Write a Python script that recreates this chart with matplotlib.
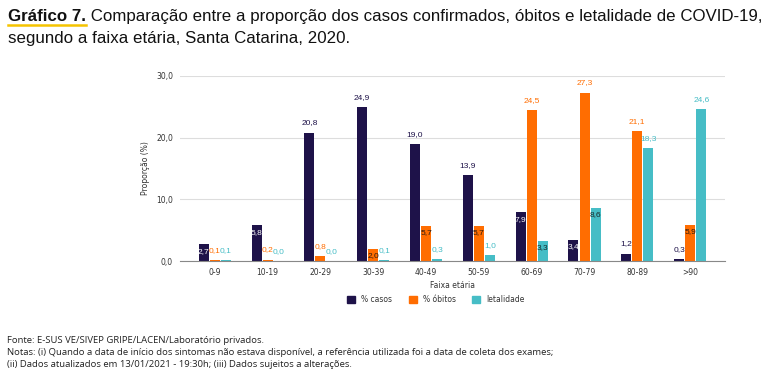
import matplotlib
matplotlib.use("Agg")
import matplotlib.pyplot as plt
from matplotlib import font_manager
import numpy as np

categories = ["0-9", "10-19", "20-29", "30-39", "40-49", "50-59", "60-69", "70-79", "80-89", ">90"]
casos = [2.7, 5.8, 20.8, 24.9, 19.0, 13.9, 7.9, 3.4, 1.2, 0.3]
obitos = [0.1, 0.2, 0.8, 2.0, 5.7, 5.7, 24.5, 27.3, 21.1, 5.9]
letalidade = [0.1, 0.0, 0.0, 0.1, 0.3, 1.0, 3.3, 8.6, 18.3, 24.6]
series_names = ["% casos", "% óbitos", "letalidade"]
yticks = [0, 10, 20, 30]

colors = ["#1e1249", "#ff6d01", "#46bdc6"]
inside_colors = ["#ffffff", "#2a1a10", "#1a2a2a"]

installed = {f.name for f in font_manager.fontManager.ttflist}
narrow = "Liberation Sans Narrow" if "Liberation Sans Narrow" in installed else "Liberation Sans"

W, H = 768, 375
fig = plt.figure(figsize=(W / 100, H / 100), dpi=100)
fig.patch.set_facecolor("white")

ax = fig.add_axes([180 / W, 1 - 261 / H, (725 - 180) / W, (261 - 76) / H])
x = np.arange(len(categories))
bw = 0.19
offs = [-0.21, 0.0, 0.21]
for vals, off, col, icol in zip([casos, obitos, letalidade], offs, colors, inside_colors):
    ax.bar(x + off, vals, width=bw, color=col, zorder=3)
    for xi, v in zip(x, vals):
        lab = f"{v:.1f}".replace(".", ",")
        if 2 <= v < 10:
            ax.annotate(lab, (xi + off, v), xytext=(0, -2.5), textcoords="offset points",
                        ha="center", va="top", fontsize=6, color=icol, zorder=4, family=narrow)
        else:
            ax.annotate(lab, (xi + off, v), xytext=(0, 4.5), textcoords="offset points",
                        ha="center", va="bottom", fontsize=6, color=col, zorder=4, family=narrow)

ax.set_xlim(-0.66, 9.66)
ax.set_ylim(0, 30)
ax.set_yticks(yticks)
ax.set_yticklabels([f"{t:.1f}".replace(".", ",") for t in yticks])
ax.set_xticks(x)
ax.set_xticklabels(categories)
ax.tick_params(axis="both", length=0, labelsize=5.5, labelcolor="#333333", pad=5)
ax.grid(axis="y", color="#dddddd", linewidth=0.8, zorder=0)
for s in ["top", "right", "left"]:
    ax.spines[s].set_visible(False)
ax.spines["bottom"].set_color("#888888")
ax.spines["bottom"].set_linewidth(0.8)
ax.spines["bottom"].set_zorder(5)
ax.set_ylabel("Proporção (%)", fontsize=5.5, color="#333333", labelpad=4)
fig.text(453 / W, 1 - 286 / H, "Faixa etária", fontsize=5.5, color="#333333",
         ha="center", va="center")

handles = [plt.Rectangle((0, 0), 1, 1, color=c) for c in colors]
fig.legend(handles, series_names, loc="center", bbox_to_anchor=(436 / W, 1 - 300 / H),
           ncol=3, frameon=False, fontsize=5.5, handlelength=1.0, handleheight=1.0,
           columnspacing=2.2, handletextpad=0.8, labelcolor="#333333")

fig.canvas.draw()
renderer = fig.canvas.get_renderer()

# Title
tfam = narrow
bold = fig.text(8 / W, 1 - 21 / H, "Gráfico 7.", fontsize=12.5, fontweight="bold",
                family=tfam, color="#111111", va="baseline")
bb = bold.get_window_extent(renderer)
rest_s = " Comparação entre a proporção dos casos confirmados, óbitos e letalidade de COVID-19,"
rest = fig.text(bb.x1 / W, 1 - 21 / H, rest_s, fontsize=12.5, family=tfam,
                color="#111111", va="baseline")
rw = rest.get_window_extent(renderer).width
scale = (760 - 8) / (bb.width + rw)
fs = 12.5 * scale
bold.set_fontsize(fs)
fig.canvas.draw()
bb = bold.get_window_extent(renderer)
rest.set_fontsize(fs)
rest.set_x(bb.x1 / W)
fig.text(8 / W, 1 - 43 / H, "segundo a faixa etária, Santa Catarina, 2020.", fontsize=fs,
         family=tfam, color="#111111", va="baseline")
fig.add_artist(plt.Line2D([bb.x0 / W, bb.x1 / W], [1 - 25 / H, 1 - 25 / H],
                          color="#f5c400", linewidth=1.8))

# Footnotes
notes = [
    "Fonte: E-SUS VE/SIVEP GRIPE/LACEN/Laboratório privados.",
    "Notas: (i) Quando a data de início dos sintomas não estava disponível, a referência utilizada foi a data de coleta dos exames;",
    "(ii) Dados atualizados em 13/01/2021 - 19:30h; (iii) Dados sujeitos a alterações.",
]
tn = fig.text(7 / W, 1 - 355 / H, notes[1], fontsize=10, family="Open Sans", color="#222222", va="baseline")
wn = tn.get_window_extent(renderer).width
nfs = 10 * (555 - 7) / wn
tn.set_fontsize(nfs)
fig.text(7 / W, 1 - 343 / H, notes[0], fontsize=nfs, family="Open Sans", color="#222222", va="baseline")
fig.text(7 / W, 1 - 367 / H, notes[2], fontsize=nfs, family="Open Sans", color="#222222", va="baseline")

fig.savefig("out.png", dpi=100, facecolor="white")
